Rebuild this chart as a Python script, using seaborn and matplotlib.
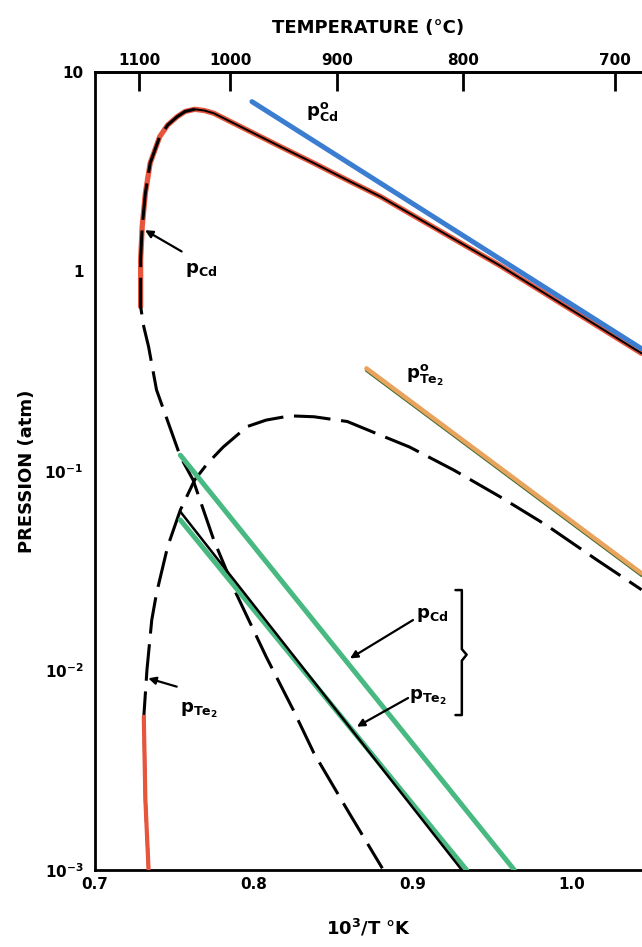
# Cd-Te PARTIAL PRESSURES OVER CdTe
# ----------------------------------------------------------------------------------------------------------------


# INITIATION ------------

import matplotlib
matplotlib.use('Agg')
import matplotlib.pyplot as plt
import matplotlib.patheffects as pe
import seaborn as sns
import numpy as np


# DATA ------------------

# p_Cd along the three-phase line: upper branch (right -> peak), left side, then dashed lower branch
pcd_x = [1.044, 0.955, 0.896, 0.880, 0.859, 0.838, 0.817, 0.796, 0.775, 0.769, 0.763,
         0.757, 0.752, 0.746, 0.741, 0.735, 0.732, 0.730, 0.729, 0.729, 0.731, 0.734,
         0.739, 0.754, 0.762, 0.775, 0.789, 0.808, 0.825, 0.838, 0.859, 0.881]
pcd_p = [0.389, 1.07, 2.00, 2.37, 2.87, 3.49, 4.22, 5.12, 6.21, 6.41, 6.50,
         6.34, 5.97, 5.42, 4.74, 3.49, 2.47, 1.68, 1.14, 0.667, 0.528, 0.420,
         0.255, 0.118, 0.0902, 0.0451, 0.0244, 0.0117, 0.00634, 0.00385, 0.00200, 0.00102]

# p_Te2 along the three-phase line (bottom left -> dome -> right edge)
pte_x = [0.734, 0.732, 0.731, 0.733, 0.736, 0.739, 0.746, 0.754, 0.763, 0.771, 0.781,
         0.796, 0.808, 0.823, 0.838, 0.859, 0.880, 0.898, 0.926, 0.955, 0.984, 1.016, 1.044]
pte_p = [0.00100, 0.00224, 0.00586, 0.0101, 0.0179, 0.0244, 0.0418, 0.0638, 0.0902, 0.109, 0.132,
         0.167, 0.180, 0.189, 0.187, 0.177, 0.151, 0.132, 0.101, 0.0743, 0.0536, 0.0358, 0.0254]

# pure element vapour pressures
pcd0_x = [0.799, 1.044]
pcd0_p = [7.1, 0.41]
pte0_x = [0.871, 1.044]
pte0_p = [0.327, 0.0307]

# congruent sublimation lines
cong_cd_x = [0.754, 0.964]
cong_cd_p = [0.120, 0.001]
cong_te_x = [0.754, 0.931]
cong_te_p = [0.0625, 0.001]
cong_te2_x = [0.754, 0.934]
cong_te2_p = [0.0568, 0.001]

y_ticks = [1e-3, 1e-2, 1e-1, 1, 10]
y_labels = [r'$\mathbf{10^{-3}}$', r'$\mathbf{10^{-2}}$', r'$\mathbf{10^{-1}}$', '1', '10']
x_ticks = [0.7, 0.8, 0.9, 1.0]
t_ticks = [1100, 1000, 900, 800, 700]

RED = '#e8553d'
BLUE = '#3a7dd1'
GREEN = '#48b981'
ORANGE = '#eaa35c'
DASH = (0, (12, 3.5))


# EXECUTION -------------

sns.set_style('white')
plt.rcParams['font.family'] = ['DejaVu Sans']
plt.rcParams['mathtext.fontset'] = 'dejavusans'
for key in ['text.color', 'axes.labelcolor', 'xtick.color', 'ytick.color']:
    plt.rcParams[key] = 'black'

fig = plt.figure(figsize=(6.42, 9.47), dpi=100)
ax = fig.add_axes([0.1472, 0.0813, 0.8528, 0.8427])
ax.set_yscale('log')

# red overlays (drawn first, black on top)
sns.lineplot(x=pcd_x[:20], y=pcd_p[:20], sort=False, estimator=None, ax=ax,
             color=RED, lw=3.8, zorder=2)
sns.lineplot(x=pte_x[:3], y=pte_p[:3], sort=False, estimator=None, ax=ax,
             color=RED, lw=3.0, zorder=4)

# black three-phase curves
sns.lineplot(x=pcd_x[10:], y=pcd_p[10:], sort=False, estimator=None, ax=ax,
             color='black', lw=2.2, linestyle=DASH, zorder=3)
sns.lineplot(x=pcd_x[:11], y=pcd_p[:11], sort=False, estimator=None, ax=ax,
             color='black', lw=1.4, zorder=3)
sns.lineplot(x=pte_x, y=pte_p, sort=False, estimator=None, ax=ax,
             color='black', lw=2.2, linestyle=DASH, zorder=3)

# pure element lines
sns.lineplot(x=pcd0_x, y=pcd0_p, ax=ax, color=BLUE, lw=3.6, zorder=3,
             solid_capstyle='round')
sns.lineplot(x=pte0_x, y=pte0_p, ax=ax, color=ORANGE, lw=3.2, zorder=3,
             path_effects=[pe.SimpleLineShadow(offset=(0.4, -1.2), shadow_color='#3d6b2f', alpha=1),
                           pe.Normal()])

# congruent lines
sns.lineplot(x=cong_cd_x, y=cong_cd_p, ax=ax, color=GREEN, lw=3.6, zorder=3)
sns.lineplot(x=cong_te2_x, y=cong_te2_p, ax=ax, color=GREEN, lw=3.6, zorder=3)
sns.lineplot(x=cong_te_x, y=cong_te_p, ax=ax, color='black', lw=1.8, zorder=4)

# labels and arrows
arrow = dict(arrowstyle='-|>', color='black', lw=1.6, mutation_scale=11, shrinkA=0, shrinkB=0)
lab = dict(fontsize=13, fontweight='bold', ha='left', va='center', color='black')

ax.text(0.833, 6.3, r'$\mathbf{p^{o}_{Cd}}$', **lab)
ax.text(0.896, 0.30, r'$\mathbf{p^{o}_{Te_2}}$', **lab)

ax.annotate('', xy=(0.7318, 1.61), xytext=(0.7548, 1.26), arrowprops=arrow)
ax.text(0.757, 1.02, r'$\mathbf{p_{Cd}}$', **lab)

ax.annotate('', xy=(0.7338, 0.00914), xytext=(0.7517, 0.0083), arrowprops=arrow)
ax.text(0.754, 0.0063, r'$\mathbf{p_{Te_2}}$', **lab)

ax.annotate('', xy=(0.8607, 0.0115), xytext=(0.9003, 0.0179), arrowprops=arrow)
ax.text(0.902, 0.0190, r'$\mathbf{p_{Cd}}$', **lab)

ax.annotate('', xy=(0.8650, 0.00523), xytext=(0.8972, 0.00728), arrowprops=arrow)
ax.text(0.898, 0.0073, r'$\mathbf{p_{Te_2}}$', **lab)

# bracket grouping the two congruent curves
ax.plot([0.927, 0.931, 0.931, 0.934, 0.931, 0.931, 0.927],
        [0.0253, 0.0253, 0.0128, 0.0120, 0.0112, 0.00598, 0.00598],
        color='black', lw=1.8, zorder=4)

# axes, ticks
ax.set_xlim(0.7, 1.0443)
ax.set_ylim(1e-3, 10)
ax.set_xticks(x_ticks)
ax.set_xticklabels([f'{v:.1f}' for v in x_ticks], fontsize=11, fontweight='bold')
ax.set_yticks(y_ticks)
ax.set_yticklabels(y_labels, fontsize=11, fontweight='bold')
ax.yaxis.set_minor_locator(matplotlib.ticker.NullLocator())
ax.tick_params(axis='both', direction='in', length=14, width=2, color='black')
ax.tick_params(axis='x', pad=5)
ax.tick_params(axis='y', pad=8)

for side in ['left', 'bottom', 'top']:
    ax.spines[side].set_linewidth(2)
    ax.spines[side].set_color('black')
ax.spines['right'].set_visible(False)

ax.set_xlabel(r'$\mathbf{10^3/T}$ °K', fontsize=13, fontweight='bold', labelpad=18)
ax.set_ylabel('PRESSION (atm)', fontsize=13, fontweight='bold', labelpad=6)

# temperature scale on top
secax = ax.secondary_xaxis('top', functions=(lambda x: 1000 / x - 273.15,
                                              lambda t: 1000 / (t + 273.15)))
secax.set_xticks(t_ticks)
secax.set_xticklabels([str(t) for t in t_ticks], fontsize=11, fontweight='bold')
secax.tick_params(direction='in', length=14, width=2, pad=3, color='black')
secax.spines['top'].set_linewidth(2)
secax.set_xlabel('TEMPERATURE (°C)', fontsize=13, fontweight='bold', labelpad=14)

fig.savefig('out.png', dpi=100, facecolor='white')


# END -------------------
